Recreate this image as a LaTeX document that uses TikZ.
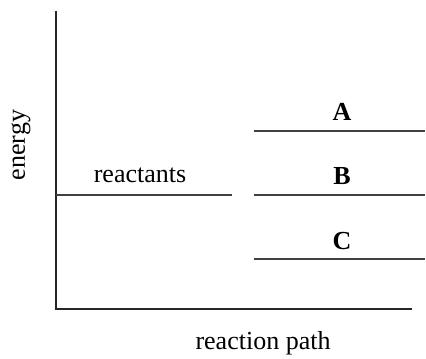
\documentclass[tikz,border=0pt]{standalone}
\usepackage{fontspec}
\setmainfont{Liberation Serif}
\usepackage{xcolor}
\usetikzlibrary{positioning}
\definecolor{levelgray}{RGB}{64,64,64}

\begin{document}
\begin{tikzpicture}[x=0.5pt, y=0.5pt, font=\fontsize{13}{15}\selectfont,
    level/.style={line width=0.8pt, levelgray},
    axisline/.style={line width=0.8pt, black!85},
    lbl/.style={inner sep=0pt, anchor=base}]
  \useasboundingbox (0,0) rectangle (426,358);
  % ---- axes ----
  \coordinate (origin) at (56,49);
  \coordinate (ytop) at (56,347);
  \coordinate (xend) at (412,49);
  \draw[axisline] (ytop) -- (origin) -- (xend);
  \node[lbl, rotate=90] (ylab) at (25,213) {energy};
  \node[lbl] (xlab) at (263,9) {reaction path};
  % ---- reactant level ----
  \coordinate (rl) at (56,163);
  \coordinate (rr) at (232,163);
  \draw[level] (rl) -- (rr);
  \node[lbl] (reac) at (140,175) {reactants};
  % ---- product levels A, B, C ----
  \foreach \name/\y in {A/227, B/163, C/99} {
    \coordinate (\name l) at (254,\y);
    \coordinate (\name r) at (425,\y);
    \draw[level] (\name l) -- (\name r);
    \node[lbl, font=\fontsize{13}{15}\selectfont\bfseries] (lab\name) at (342,\y+10) {\name};
  }
\end{tikzpicture}
\end{document}
